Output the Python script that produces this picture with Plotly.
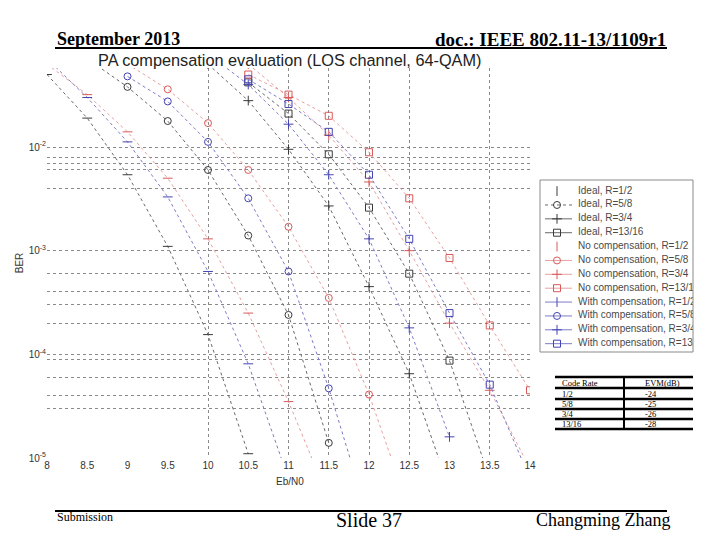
import plotly.graph_objects as go

# page body adds an 8px margin around the figure; size the figure to fill the window
OFF = 8
W, H = 720 - 2 * OFF, 540 - 2 * OFF

# ---------------- data ----------------
ideal_r12_x = [8.0, 8.5, 9.0, 9.5, 10.0, 10.5]
ideal_r12_ber = [5.0e-2, 1.9e-2, 5.4e-3, 1.1e-3, 1.55e-4, 1.1e-5]
ideal_r58_x = [8.5, 9.0, 9.5, 10.0, 10.5, 11.0, 11.5]
ideal_r58_ber = [7.1e-2, 3.8e-2, 1.78e-2, 6.0e-3, 1.4e-3, 2.4e-4, 1.4e-5]
ideal_r34_x = [10.0, 10.5, 11.0, 11.5, 12.0, 12.5, 13.0]
ideal_r34_ber = [6.3e-2, 2.8e-2, 9.5e-3, 2.7e-3, 4.5e-4, 6.5e-5, 5.0e-6]
ideal_r1316_x = [10.5, 11.0, 11.5, 12.0, 12.5, 13.0, 13.5]
ideal_r1316_ber = [4.2e-2, 2.1e-2, 8.5e-3, 2.6e-3, 6.0e-4, 8.7e-5, 6.3e-6]

nocomp_r12_x = [8.0, 8.5, 9.0, 9.5, 10.0, 10.5, 11.0, 11.5]
nocomp_r12_ber = [6.3e-2, 3.2e-2, 1.4e-2, 5.0e-3, 1.3e-3, 2.5e-4, 3.5e-5, 4.0e-6]
nocomp_r58_x = [9.0, 9.5, 10.0, 10.5, 11.0, 11.5, 12.0, 12.5]
nocomp_r58_ber = [6.3e-2, 3.6e-2, 1.7e-2, 6.0e-3, 1.7e-3, 3.5e-4, 4.1e-5, 3.2e-6]
nocomp_r34_x = [10.5, 11.0, 11.5, 12.0, 12.5, 13.0, 13.5, 14.0]
nocomp_r34_ber = [6.3e-2, 3.0e-2, 1.3e-2, 4.6e-3, 1.0e-3, 2.0e-4, 4.5e-5, 7.9e-6]
nocomp_r1316_x = [10.5, 11.0, 11.5, 12.0, 12.5, 13.0, 13.5, 14.0]
nocomp_r1316_ber = [5.0e-2, 3.2e-2, 2.0e-2, 8.9e-3, 3.2e-3, 8.5e-4, 1.9e-4, 4.5e-5]

comp_r12_x = [8.0, 8.5, 9.0, 9.5, 10.0, 10.5, 11.0]
comp_r12_ber = [7.1e-2, 3.0e-2, 1.12e-2, 3.3e-3, 6.3e-4, 8.1e-5, 6.3e-6]
comp_r58_x = [9.0, 9.5, 10.0, 10.5, 11.0, 11.5, 12.0]
comp_r58_ber = [4.8e-2, 2.75e-2, 1.12e-2, 3.2e-3, 6.3e-4, 4.7e-5, 2.5e-6]
comp_r34_x = [10.0, 10.5, 11.0, 11.5, 12.0, 12.5, 13.0]
comp_r34_ber = [7.9e-2, 4.0e-2, 1.66e-2, 5.4e-3, 1.3e-3, 1.8e-4, 1.6e-5]
comp_r1316_x = [10.5, 11.0, 11.5, 12.0, 12.5, 13.0, 13.5, 14.0]
comp_r1316_ber = [4.5e-2, 2.6e-2, 1.4e-2, 5.4e-3, 1.3e-3, 2.5e-4, 5.1e-5, 6.3e-6]

x_ticks = [8, 8.5, 9, 9.5, 10, 10.5, 11, 11.5, 12, 12.5, 13, 13.5, 14]
x_tick_labels = ["8", "8.5", "9", "9.5", "10", "10.5", "11", "11.5", "12", "12.5", "13", "13.5", "14"]
y_ticks = [1e-5, 1e-4, 1e-3, 1e-2]
y_tick_labels = ["10<sup>-5</sup>", "10<sup>-4</sup>", "10<sup>-3</sup>", "10<sup>-2</sup>"]
x_grid_vals = [10, 11, 11.5, 12, 12.5, 13.5]
y_grid_vals = [1e-2, 8e-3, 7e-3, 6e-3, 4e-3, 1e-3, 6e-4, 4e-4, 3e-4, 2e-4,
               1e-4, 9e-5, 6e-5, 4e-5, 3e-5]

table_header = ["Code Rate", "EVM(dB)"]
code_rates = ["1/2", "5/8", "3/4", "13/16"]
evm_db = ["-24", "-25", "-26", "-28"]

# ---------------- helpers: screen pixel -> paper fraction ----------------
def sx(x):
    return (x - OFF) / W

def sy(y):
    return 1 - (y - OFF) / H

BLACK_L, BLACK_M = "#6a6a6a", "#3a3a3a"
RED_L, RED_M = "#e8a0a0", "#d85a5a"
BLUE_L, BLUE_M = "#7c7cc8", "#4444b4"

symbols = {"1/2": "line-ew-open", "5/8": "circle-open", "3/4": "cross-thin-open", "13/16": "square-open"}
legend_symbols = {"1/2": "line-ns-open", "5/8": "circle-open", "3/4": "cross-thin-open", "13/16": "square-open"}

series = [
    ("Ideal, R=1/2", ideal_r12_x, ideal_r12_ber, "1/2", BLACK_L, BLACK_M),
    ("Ideal, R=5/8", ideal_r58_x, ideal_r58_ber, "5/8", BLACK_L, BLACK_M),
    ("Ideal, R=3/4", ideal_r34_x, ideal_r34_ber, "3/4", BLACK_L, BLACK_M),
    ("Ideal, R=13/16", ideal_r1316_x, ideal_r1316_ber, "13/16", BLACK_L, BLACK_M),
    ("No compensation, R=1/2", nocomp_r12_x, nocomp_r12_ber, "1/2", RED_L, RED_M),
    ("No compensation, R=5/8", nocomp_r58_x, nocomp_r58_ber, "5/8", RED_L, RED_M),
    ("No compensation, R=3/4", nocomp_r34_x, nocomp_r34_ber, "3/4", RED_L, RED_M),
    ("No compensation, R=13/16", nocomp_r1316_x, nocomp_r1316_ber, "13/16", RED_L, RED_M),
    ("With compensation, R=1/2", comp_r12_x, comp_r12_ber, "1/2", BLUE_L, BLUE_M),
    ("With compensation, R=5/8", comp_r58_x, comp_r58_ber, "5/8", BLUE_L, BLUE_M),
    ("With compensation, R=3/4", comp_r34_x, comp_r34_ber, "3/4", BLUE_L, BLUE_M),
    ("With compensation, R=13/16", comp_r1316_x, comp_r1316_ber, "13/16", BLUE_L, BLUE_M),
]

fig = go.Figure()
for name, xs, ys, rate, lc, mc in series:
    fig.add_trace(go.Scatter(
        x=xs, y=ys, name=name, mode="lines+markers", showlegend=False,
        line=dict(color=lc, width=1, dash="dot"),
        marker=dict(symbol=symbols[rate], size=7, color=mc,
                    line=dict(color=mc, width=1)),
    ))

# ---------------- compact legend drawn on its own small axes ----------------
LEG_W = 153
for i, (name, xs, ys, rate, lc, mc) in enumerate(series):
    hide_line = i in (0, 4)
    dash = "dot" if i == 1 else "solid"
    fig.add_trace(go.Scatter(
        x=[5, 17, 32], y=[i, i, i], mode="lines+markers", showlegend=False,
        xaxis="x2", yaxis="y2", hoverinfo="skip",
        line=dict(color="rgba(0,0,0,0)" if hide_line else lc, width=1, dash=dash),
        marker=dict(symbol=legend_symbols[rate], size=7, color=mc, opacity=[0, 1, 0],
                    line=dict(color=mc, width=1)),
    ))
fig.add_trace(go.Scatter(
    x=[38] * len(series), y=list(range(len(series))), mode="text",
    text=[s[0] for s in series], textposition="middle right", showlegend=False,
    xaxis="x2", yaxis="y2", hoverinfo="skip", cliponaxis=True,
    textfont=dict(family="Liberation Sans", size=10, color="#4a4a4a"),
))

tickfont = dict(family="Liberation Sans", size=10, color="#333333")
fig.update_layout(
    width=W, height=H,
    margin=dict(l=0, r=0, t=0, b=0),
    paper_bgcolor="white", plot_bgcolor="white",
    showlegend=False,
    xaxis=dict(domain=[sx(47), sx(530)], range=[8, 14], tickmode="array",
               tickvals=x_ticks, ticktext=x_tick_labels, showgrid=False,
               zeroline=False, showline=False, ticks="", tickfont=tickfont,
               automargin=False,
               minor=dict(tickmode="array", tickvals=x_grid_vals, showgrid=True,
                          gridcolor="#8a8a8a", griddash="dot", gridwidth=1, ticks="")),
    yaxis=dict(domain=[sy(458), sy(68)], type="log", range=[-5, -1.238],
               tickmode="array", tickvals=y_ticks, ticktext=y_tick_labels,
               showgrid=False, zeroline=False, showline=False, ticks="",
               tickfont=tickfont, automargin=False,
               title=dict(text="BER", font=dict(family="Liberation Sans", size=10, color="#333333"),
                          standoff=3),
               minor=dict(tickmode="array", tickvals=y_grid_vals, showgrid=True,
                          gridcolor="#8a8a8a", griddash="dot", gridwidth=1, ticks="")),
    xaxis2=dict(domain=[sx(540), sx(540 + LEG_W)], range=[0, LEG_W], visible=False,
                fixedrange=True, anchor="y2"),
    yaxis2=dict(domain=[sy(352), sy(180)], range=[len(series) - 0.4, -0.8], visible=False,
                fixedrange=True, anchor="x2"),
)

fig.add_shape(type="rect", xref="x2 domain", yref="y2 domain", x0=0, x1=1, y0=0, y1=1,
              line=dict(color="#8a8a8a", width=1), fillcolor="rgba(0,0,0,0)", layer="above")

# ---------------- EVM table (lines + text from the lists) ----------------
T_LEFT, T_MID, T_RIGHT = 555, 624, 693
row_lines = [377, 388, 399, 409, 419, 429]
rows = [table_header] + [[r, e] for r, e in zip(code_rates, evm_db)]
for yl in row_lines:
    fig.add_shape(type="line", xref="paper", yref="paper", x0=sx(T_LEFT), x1=sx(T_RIGHT),
                  y0=sy(yl), y1=sy(yl), line=dict(color="black", width=2.5))
fig.add_shape(type="line", xref="paper", yref="paper", x0=sx(T_MID), x1=sx(T_MID),
              y0=sy(row_lines[0]), y1=sy(row_lines[-1]), line=dict(color="black", width=2))
for k, (c1, c2) in enumerate(rows):
    yc = (row_lines[k] + row_lines[k + 1]) / 2
    for txt, xl in ((c1, 560), (c2, 643)):
        fig.add_annotation(xref="paper", yref="paper", showarrow=False, text=txt,
                           x=sx(xl), y=sy(yc), xanchor="left", yanchor="middle",
                           font=dict(family="Liberation Serif", size=8.5, color="black"))

ann = [
    dict(text="<b>September 2013</b>", x=sx(55), y=sy(39), xanchor="left", yanchor="middle",
         font=dict(family="Liberation Serif", size=18, color="black")),
    dict(text="<b>doc.: IEEE 802.11-13/1109r1</b>", x=sx(668), y=sy(39), xanchor="right", yanchor="middle",
         font=dict(family="Liberation Serif", size=19, color="black")),
    dict(text="PA compensation evaluation (LOS channel, 64-QAM)", x=sx(96), y=sy(60),
         xanchor="left", yanchor="middle",
         font=dict(family="Liberation Sans", size=16.3, color="#222222")),
    dict(text="Eb/N0", x=sx(290), y=sy(481), xanchor="center", yanchor="middle",
         font=dict(family="Liberation Sans", size=10, color="#333333")),
    dict(text="Submission", x=sx(55), y=sy(517), xanchor="left", yanchor="middle",
         font=dict(family="Liberation Serif", size=12, color="black")),
    dict(text="Slide 37", x=sx(369), y=sy(520), xanchor="center", yanchor="middle",
         font=dict(family="Liberation Serif", size=20, color="black")),
    dict(text="Changming Zhang", x=sx(672), y=sy(520), xanchor="right", yanchor="middle",
         font=dict(family="Liberation Serif", size=18, color="black")),
]
for a in ann:
    fig.add_annotation(xref="paper", yref="paper", showarrow=False, **a)

fig.add_shape(type="line", xref="paper", yref="paper", x0=sx(55), x1=sx(667),
              y0=sy(48), y1=sy(48), line=dict(color="black", width=2))
fig.add_shape(type="line", xref="paper", yref="paper", x0=sx(55), x1=sx(667),
              y0=sy(511), y1=sy(511), line=dict(color="black", width=2))

fig.write_html("out.html")
